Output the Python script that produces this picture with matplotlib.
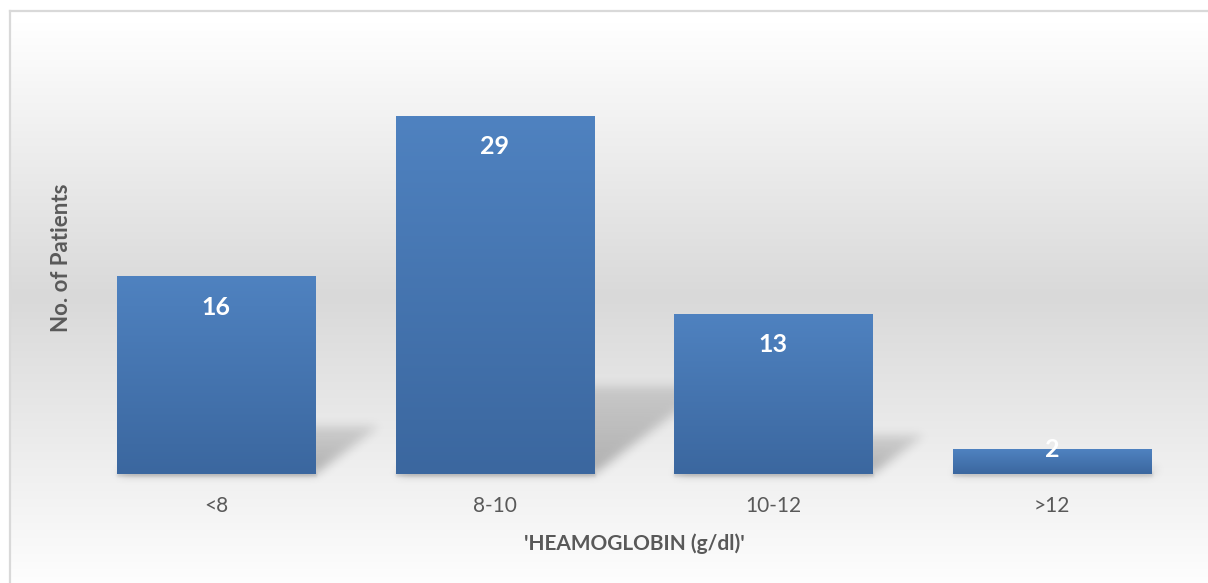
import numpy as np
import matplotlib
matplotlib.use("Agg")
import matplotlib.pyplot as plt
from matplotlib.colors import to_rgb
from matplotlib.lines import Line2D

# Data
categories = ["<8", "8-10", "10-12", ">12"]
patients = [16, 29, 13, 2]
x_title = "'HEAMOGLOBIN (g/dl)'"
y_title = "No. of Patients"

W, H = 1208, 583
DPI = 100
plt.rcParams["font.family"] = ["Lato", "DejaVu Sans"]

fig = plt.figure(figsize=(W / DPI, H / DPI), dpi=DPI)
fig.patch.set_facecolor("white")


def fx(px):
    return px / W


def fy(py_from_top):
    return 1 - py_from_top / H


# ---- background: vertical grey gradient inside the chart frame ----
bg_ax = fig.add_axes([0, 0, 1, 1], zorder=-3)
bg_ax.set_xlim(0, W)
bg_ax.set_ylim(H, 0)
bg_ax.axis("off")
rows = np.arange(H) + 0.5
top_y, mid_y = 12.0, 290.0
lo, hi = 217 / 255, 1.0
vals = np.where(
    rows < mid_y,
    hi - (hi - lo) * np.clip((rows - top_y) / (mid_y - top_y), 0, 1),
    lo + (hi - lo) * np.clip((rows - mid_y) / (H + 10 - mid_y), 0, 1),
)
bg = np.repeat(vals[:, None], 2, axis=1)
bg_img = np.dstack([bg, bg, bg])
bg_ax.imshow(bg_img, extent=(10, W, H, 12), aspect="auto", interpolation="bilinear")
frame_col = "#d9d9d9"
bg_ax.add_line(Line2D([10, 10], [11, H], color=frame_col, lw=1.6))
bg_ax.add_line(Line2D([10, W], [11, 11], color=frame_col, lw=1.6))

# ---- main axes ----
base_px = 474
ymax = 35
unit_px = (474 - 116) / 29
ax_h = ymax * unit_px
ax = fig.add_axes([fx(77), fy(base_px), fx(1191 - 77), ax_h / H], zorder=0)
ax.patch.set_visible(False)
ax.set_xlim(-0.5, len(categories) - 0.5)
ax.set_ylim(0, ymax)
for s in ax.spines.values():
    s.set_visible(False)
ax.set_yticks([])
xpos = np.arange(len(categories))
ax.set_xticks(xpos)
ax.set_xticklabels(categories, fontsize=15, color="#595959")
ax.tick_params(axis="x", length=0, pad=16)

bars = ax.bar(xpos, patients, width=0.712, color="#4677b2", zorder=2)

# gradient fill for every bar
top_c = np.array(to_rgb("#4f82c0"))
bot_c = np.array(to_rgb("#3b679f"))
grad = np.linspace(0, 1, 256)[:, None]
grad_img = top_c[None, None, :] * (1 - grad[..., None]) + bot_c[None, None, :] * grad[..., None]
grad_img = np.repeat(grad_img, 2, axis=1)
for b in bars:
    x0, w, h = b.get_x(), b.get_width(), b.get_height()
    im = ax.imshow(grad_img, extent=(x0, x0 + w, 0, h), aspect="auto",
                   interpolation="bilinear", zorder=3)
    im.set_clip_path(b)

# ---- perspective shadows behind the bars ----
fig.canvas.draw()
sh_ax = fig.add_axes([0, 0, 1, 1], zorder=-1)
sh_ax.set_xlim(0, W)
sh_ax.set_ylim(0, H)
sh_ax.axis("off")

yy, xx = np.mgrid[0:H, 0:W] + 0.5
alpha = np.zeros((H, W))
soft = np.zeros((H, W))
for b in bars:
    (x0, y0), (x1, y1) = ax.transData.transform(
        [(b.get_x(), 0), (b.get_x() + b.get_width(), b.get_height())])
    bar_h = y1 - y0
    sh_h = 0.245 * bar_h
    skew = 1.33
    rel = yy - y0
    inside = (rel >= 0) & (rel <= sh_h) & (xx >= x0 + skew * rel) & (xx <= x1 + skew * rel)
    fade = 1 - 0.55 * np.clip(rel / max(sh_h, 1), 0, 1)
    alpha = np.maximum(alpha, inside * fade)
    # thin soft shadow just under each bar
    under = (xx >= x0) & (xx <= x1 + 2) & (yy >= y0 - 3) & (yy <= y0 + 2)
    soft = np.maximum(soft, under.astype(float))


def blur(arr, sigma):
    r = int(3 * sigma)
    k = np.exp(-0.5 * (np.arange(-r, r + 1) / sigma) ** 2)
    k /= k.sum()
    out = np.apply_along_axis(lambda v: np.convolve(v, k, mode="same"), 0, arr)
    out = np.apply_along_axis(lambda v: np.convolve(v, k, mode="same"), 1, out)
    return out


alpha = blur(alpha, 5.0) * 0.27 + blur(soft, 1.2) * 0.10
shadow = np.zeros((H, W, 4))
shadow[..., 3] = np.clip(alpha, 0, 1)
sh_ax.imshow(shadow, extent=(0, W, 0, H), origin="lower", aspect="auto",
             interpolation="bilinear")

# ---- value labels ----
for b, v in zip(bars, patients):
    (_, y0), (_, y1) = ax.transData.transform([(0, 0), (0, v)])
    off = -30.7 if (y1 - y0) > 60 else 0.3
    ax.annotate(str(v), (b.get_x() + b.get_width() / 2, v), xytext=(0, off * 72 / DPI),
                textcoords="offset points", ha="center", va="center",
                fontsize=18, fontweight="bold", color="white", zorder=5)

# ---- axis titles ----
fig.text(fx(634), fy(544), x_title, ha="center", va="center", fontsize=15,
         fontweight="bold", color="#595959")
fig.text(fx(61), fy(258), y_title, ha="center", va="center", fontsize=16,
         fontweight="bold", color="#595959", rotation=90)

fig.savefig("out.png", dpi=DPI)
